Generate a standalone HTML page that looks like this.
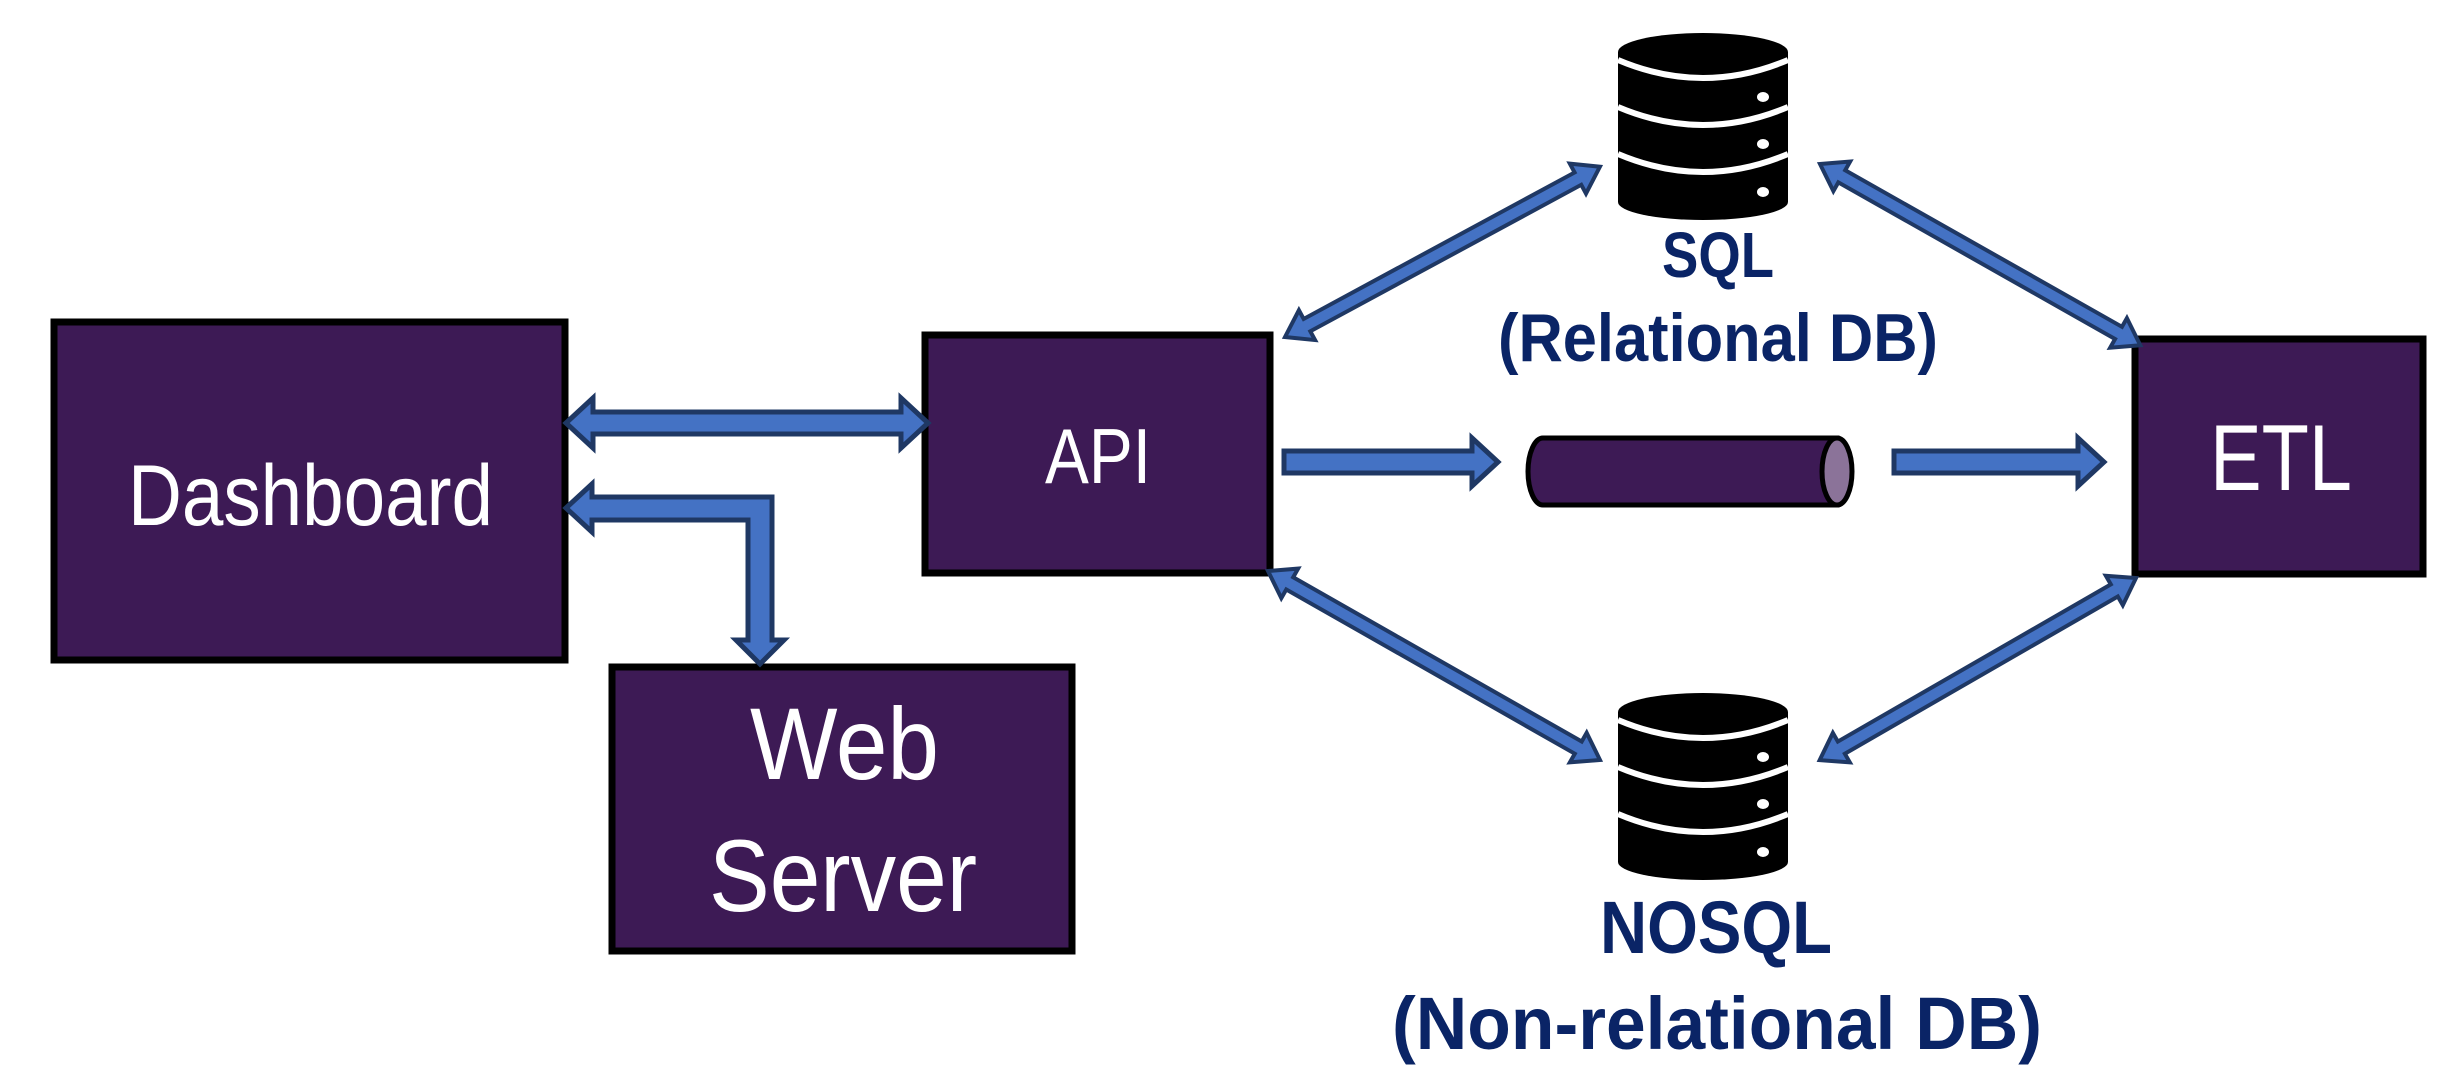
<!DOCTYPE html>
<html><head><meta charset="utf-8"><style>
html,body{margin:0;padding:0;background:#fff;}
svg{display:block;}
</style></head><body>
<svg width="2441" height="1080" viewBox="0 0 2441 1080" xmlns="http://www.w3.org/2000/svg">
<defs>
<g id="db">
  <ellipse cx="1703" cy="202" rx="85" ry="18" fill="#000"/>
  <rect x="1618" y="52" width="170" height="150" fill="#000"/>
  <ellipse cx="1703" cy="52" rx="85" ry="19" fill="#000"/>
  <path d="M1618 60 Q1703 96 1788 60" fill="none" stroke="#fff" stroke-width="6"/>
  <path d="M1618 107 Q1703 143 1788 107" fill="none" stroke="#fff" stroke-width="6"/>
  <path d="M1618 154 Q1703 190 1788 154" fill="none" stroke="#fff" stroke-width="6"/>
  <ellipse cx="1763" cy="97" rx="6" ry="5" fill="#fff"/>
  <ellipse cx="1763" cy="144" rx="6" ry="5" fill="#fff"/>
  <ellipse cx="1763" cy="192" rx="6" ry="5" fill="#fff"/>
</g>
</defs>

<g fill="#3d1a55" stroke="#000" stroke-width="7">
  <rect x="54" y="322" width="511" height="338"/>
  <rect x="925" y="335" width="345" height="238"/>
  <rect x="612" y="667" width="460" height="284"/>
  <rect x="2135" y="339" width="288" height="235"/>
</g>

<g font-family="Liberation Sans, sans-serif" fill="#fff">
  <text x="128" y="525" font-size="86" textLength="365" lengthAdjust="spacingAndGlyphs">Dashboard</text>
  <text x="1045" y="483" font-size="78" textLength="106" lengthAdjust="spacingAndGlyphs">API</text>
  <text x="750" y="779" font-size="102" textLength="189" lengthAdjust="spacingAndGlyphs">Web</text>
  <text x="709" y="911" font-size="102" textLength="268" lengthAdjust="spacingAndGlyphs">Server</text>
  <text x="2210" y="490" font-size="94" textLength="142" lengthAdjust="spacingAndGlyphs">ETL</text>
</g>
<g font-family="Liberation Sans, sans-serif" font-weight="bold" fill="#0a2466">
  <text x="1662" y="277" font-size="64" textLength="112" lengthAdjust="spacingAndGlyphs">SQL</text>
  <text x="1498" y="361" font-size="68" textLength="440" lengthAdjust="spacingAndGlyphs">(Relational DB)</text>
  <text x="1600" y="953" font-size="74" textLength="232" lengthAdjust="spacingAndGlyphs">NOSQL</text>
  <text x="1392" y="1049" font-size="74" textLength="650" lengthAdjust="spacingAndGlyphs">(Non-relational  DB)</text>
</g>

<use href="#db"/>
<use href="#db" transform="translate(0,660)"/>

<!-- pipe -->
<path d="M1543 438 L1837 438 L1837 505 L1543 505 A15 33.5 0 0 1 1543 438 Z" fill="#3d1a55" stroke="#000" stroke-width="5"/>
<ellipse cx="1837" cy="471.5" rx="15" ry="33.5" fill="#8b7399" stroke="#000" stroke-width="5"/>

<g fill="#4472c4" stroke="#1f3864" stroke-width="5" stroke-linejoin="miter">
  <polygon transform="translate(566,423)" points="0,0 27,-25 27,-11 335,-11 335,-25 362,0 335,25 335,11 27,11 27,25"/>
  <polygon points="566,508 592,484 592,497 772,497 772,640 784,640 760,664 736,640 748,640 748,520 592,520 592,532"/>
  <polygon transform="translate(1284,462)" points="0,-11 188,-11 188,-24 214,0 188,24 188,11 0,11"/>
  <polygon transform="translate(1894,462)" points="0,-11 184,-11 184,-24 210,0 184,24 184,11 0,11"/>
</g>
<g fill="#4472c4" stroke="#1f3864" stroke-width="4">
  <polygon transform="translate(1285,337) rotate(-28.4)" points="0,0 25,-17 25,-7 333,-7 333,-17 358,0 333,17 333,7 25,7 25,17"/>
  <polygon transform="translate(1820,164) rotate(29.5)" points="0,0 25,-17 25,-7 343,-7 343,-17 368,0 343,17 343,7 25,7 25,17"/>
  <polygon transform="translate(1268,571) rotate(29.65)" points="0,0 25,-17 25,-7 357,-7 357,-17 382,0 357,17 357,7 25,7 25,17"/>
  <polygon transform="translate(2136,578) rotate(150.07)" points="0,0 25,-17 25,-7 340,-7 340,-17 365,0 340,17 340,7 25,7 25,17"/>
</g>
</svg>
</body></html>
